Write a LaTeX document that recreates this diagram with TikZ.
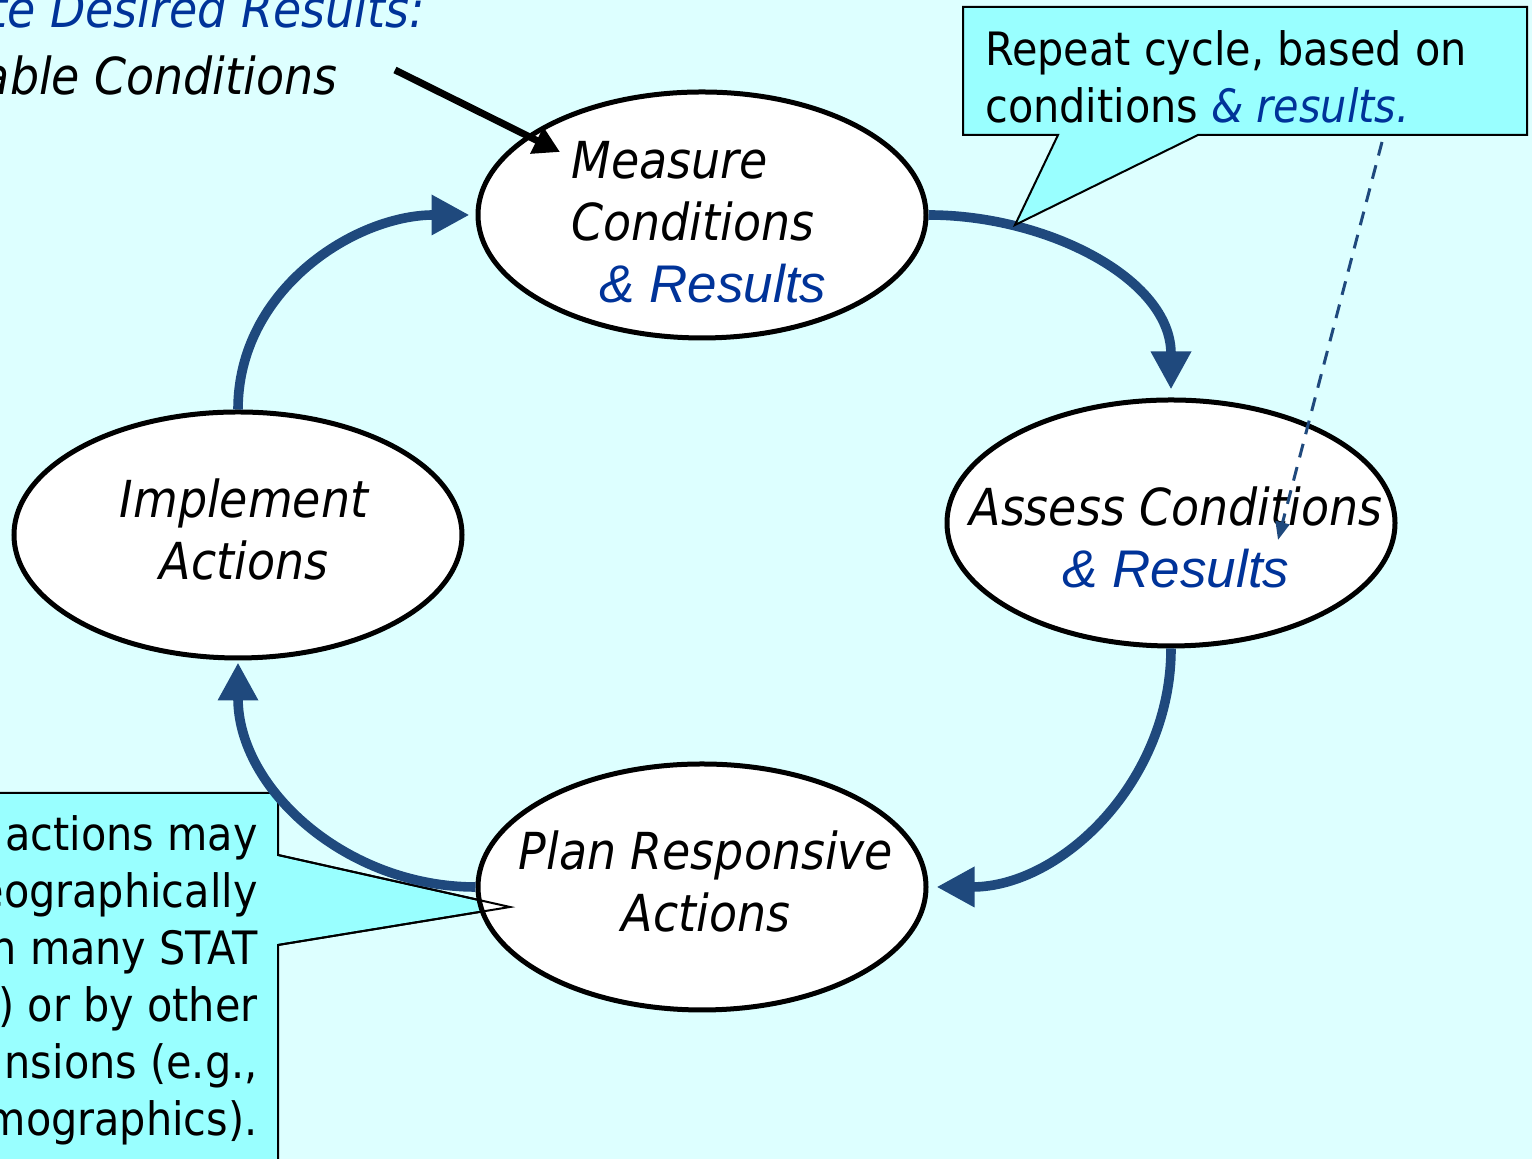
\documentclass[tikz,border=0pt]{standalone}
\usepackage{fontspec}
\setmainfont{DejaVu Sans Condensed}
\newfontfamily\arialfont{Liberation Sans}
\usetikzlibrary{shapes.geometric,arrows.meta}
\definecolor{bgcyan}{RGB}{221,255,255}
\definecolor{notecyan}{RGB}{153,255,255}
\definecolor{textblue}{RGB}{0,51,153}
\definecolor{cyclearrow}{RGB}{31,73,125}
\newcommand{\bluetext}[1]{\textcolor{textblue}{#1}}
\newcommand{\arialblue}[1]{{\arialfont\fontsize{26.5}{31}\selectfont\itshape\textcolor{textblue}{#1}}}

\begin{document}
\begin{tikzpicture}[x=0.5pt,y=0.5pt,
    step node/.style={ellipse,draw,fill=white,line width=2.5pt,minimum width=224pt,minimum height=123pt,inner sep=0pt},
    step text/.style={font=\fontsize{25.5}{31}\selectfont\itshape,inner sep=0pt},
    cycle arrow/.style={draw=cyclearrow,line width=4.8pt,-{Triangle[length=19pt,width=19pt]}},
    callout box/.style={fill=notecyan,draw=black,line width=1pt,line join=miter},
    note text/.style={font=\fontsize{23}{28.5}\selectfont,inner sep=0pt}]
    \useasboundingbox (0,0) rectangle (1532,1159);
    \clip (0,0) rectangle (1532,1159);
    \fill[bgcyan] (0,0) rectangle (1532,1159);

    % heading, cut by the page edge
    \node[step text,anchor=base east] (goal line) at (425,1131) {\bluetext{te Desired Results:}};
    \node[step text,anchor=base east] (cond line) at (338,1064) {able Conditions};

    % note on the left
    \coordinate (pin a) at (278,304);
    \coordinate (pin b) at (278,214);
    \coordinate (pin tip) at (510,252);
    \path[callout box] (-20,366) -- (278,366) -- (pin a) -- (pin tip) -- (pin b) -- (278,-20) -- (-20,-20) -- cycle;
    \node[note text,anchor=north east,align=right] (actions note) at (258,344)
        {actions may\\eographically\\n many STAT\\) or by other\\nsions (e.g.,\\mographics).};

    % the four steps
    \node[step node] (measure) at (702,944) {};
    \node[step node] (assess) at (1171,636) {};
    \node[step node] (plan) at (702,272) {};
    \node[step node] (implement) at (238,624) {};
    \draw[line width=1pt] (pin a) -- (pin tip) -- (pin b);

    \node[step text,align=left] (measure text) at (699,937)
        {Measure\\Conditions\\\hspace*{14pt}\arialblue{\& Results}};
    \node[step text,align=center] (assess text) at (1176,622)
        {Assess Conditions\\\arialblue{\& Results}};
    \node[step text,align=center] (plan text) at (706,277) {Plan Responsive\\Actions};
    \node[step text,align=center] (implement text) at (244,629) {Implement\\Actions};

    % the cycle
    \draw[cycle arrow,shorten >=4pt] (measure.east) to[out=0,in=90] (assess.north);
    \draw[cycle arrow,shorten >=4pt] (assess.south) to[out=-90,in=0] (plan.east);
    \draw[cycle arrow,shorten >=1pt] (plan.west) to[out=180,in=-90] (implement.south);
    \draw[cycle arrow,shorten >=3pt] (implement.north) to[out=90,in=180] (measure.west);

    % pointer into the measure step
    \coordinate (head from) at (395,1089);
    \coordinate (head to) at (560,1007);
    \draw[line width=3.5pt,-{Triangle[length=13pt,width=14pt]}] (head from) -- (head to);

    % note on the right
    \coordinate (rep a) at (1058,1024);
    \coordinate (rep b) at (1198,1024);
    \coordinate (rep tip) at (1015,934);
    \path[callout box] (963,1152) -- (1527,1152) -- (1527,1024) -- (rep b) -- (rep tip) -- (rep a) -- (963,1024) -- cycle;
    \node[note text,anchor=north west,align=left] (repeat note) at (985,1129)
        {Repeat cycle, based on\\conditions \bluetext{\itshape\& results.}};
    \coordinate (dash from) at (1382,1017);
    \coordinate (dash to) at (1278,619);
    \draw[cyclearrow,line width=1.5pt,dash pattern=on 7pt off 5pt,-{Triangle[length=9pt,width=7pt]}] (dash from) -- (dash to);
\end{tikzpicture}
\end{document}
